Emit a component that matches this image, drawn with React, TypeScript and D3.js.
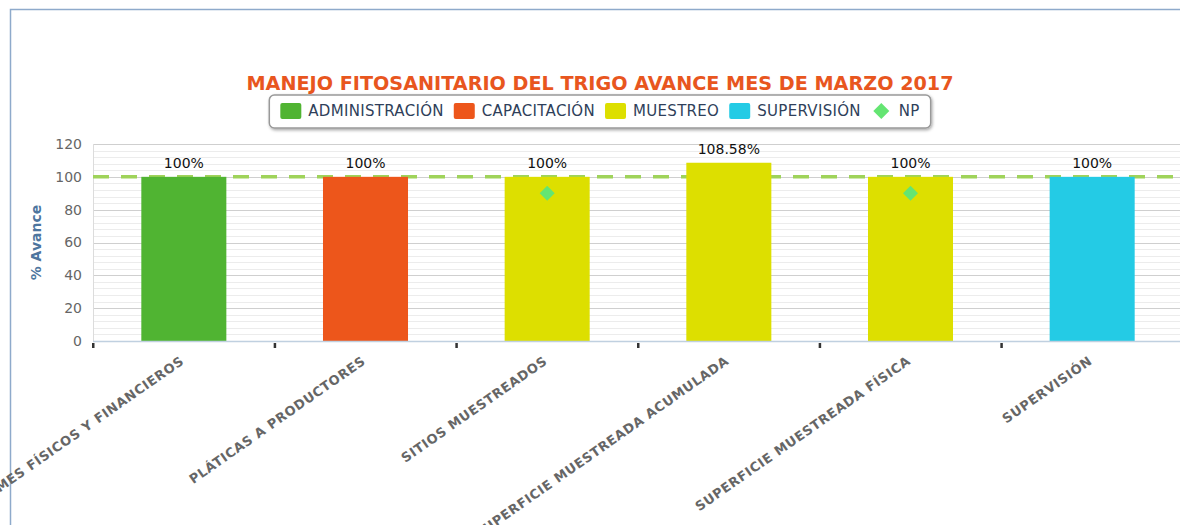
import React, { useEffect, useRef } from "react";
import * as d3 from "d3";

const title = "MANEJO FITOSANITARIO DEL TRIGO AVANCE MES DE MARZO 2017";
const yAxisTitle = "% Avance";
const categories = [
  "INFORMES FÍSICOS Y FINANCIEROS",
  "PLÁTICAS A PRODUCTORES",
  "SITIOS MUESTREADOS",
  "SUPERFICIE MUESTREADA ACUMULADA",
  "SUPERFICIE MUESTREADA FÍSICA",
  "SUPERVISIÓN",
];
const barValues = [100, 100, 100, 108.58, 100, 100];
const barGroups = ["ADMINISTRACIÓN", "CAPACITACIÓN", "MUESTREO", "MUESTREO", "MUESTREO", "SUPERVISIÓN"];
const npValues: (number | null)[] = [null, null, 90, null, 90, null];
const legendNames = ["ADMINISTRACIÓN", "CAPACITACIÓN", "MUESTREO", "SUPERVISIÓN", "NP"];
const legendColors = ["#50B432", "#ED561B", "#DDDF00", "#24CBE5", "#64E572"];
const yTicks = [0, 20, 40, 60, 80, 100, 120];
const minorStep = 4;
const targetValue = 100;

export default function App() {
  const ref = useRef<SVGSVGElement>(null);

  useEffect(() => {
    const svg = d3.select(ref.current);
    svg.selectAll("*").remove();
    const W = 1180, H = 525;
    const left = 93, right = 1183, top = 144, bottom = 341;
    const font = "DejaVu Sans, Verdana, sans-serif";

    const color = d3.scaleOrdinal<string, string>().domain(legendNames).range(legendColors);
    const x = d3.scaleBand<string>().domain(categories).range([left, right]).padding(0);
    const y = d3.scaleLinear().domain([0, 120]).range([bottom, top]);

    const defs = svg.append("defs");
    const f = defs.append("filter").attr("id", "shadow").attr("x", "-5%").attr("y", "-30%").attr("width", "110%").attr("height", "170%");
    f.append("feDropShadow").attr("dx", 1).attr("dy", 1.5).attr("stdDeviation", 1.5).attr("flood-color", "#000").attr("flood-opacity", 0.35);

    svg.append("rect").attr("width", W).attr("height", H).attr("fill", "#fff");
    // outer border
    svg.append("path").attr("d", `M10.5,${H} L10.5,9.5 L${W},9.5`).attr("fill", "none").attr("stroke", "#8eaacb").attr("stroke-width", 1.5);

    // minor gridlines
    const minor = d3.range(0, 120 + 0.001, minorStep).filter((v) => v % 20 !== 0);
    svg.append("g").selectAll("line").data(minor).join("line")
      .attr("x1", left).attr("x2", right)
      .attr("y1", (d) => Math.round(y(d)) + 0.5).attr("y2", (d) => Math.round(y(d)) + 0.5)
      .attr("stroke", "#ececec").attr("stroke-width", 1);
    // major gridlines
    svg.append("g").selectAll("line").data(yTicks.filter((v) => v > 0)).join("line")
      .attr("x1", left).attr("x2", right)
      .attr("y1", (d) => Math.round(y(d)) + 0.5).attr("y2", (d) => Math.round(y(d)) + 0.5)
      .attr("stroke", "#cfcfcf").attr("stroke-width", 1);
    // left plot edge
    svg.append("line").attr("x1", left + 0.5).attr("x2", left + 0.5).attr("y1", top).attr("y2", bottom)
      .attr("stroke", "#dcdcdc");

    // target dashed line
    svg.append("line").attr("x1", left).attr("x2", right)
      .attr("y1", y(targetValue)).attr("y2", y(targetValue))
      .attr("stroke", "#9fd35a").attr("stroke-width", 3.5).attr("stroke-dasharray", "16,12");

    // bars
    const bw = x.bandwidth() * 0.468;
    svg.append("g").selectAll("rect").data(categories).join("rect")
      .attr("x", (d) => x(d)! + x.bandwidth() / 2 - bw / 2)
      .attr("width", bw)
      .attr("y", (d, i) => y(barValues[i]))
      .attr("height", (d, i) => y(0) - y(barValues[i]))
      .attr("fill", (d, i) => color(barGroups[i]));

    // data labels
    svg.append("g").selectAll("text").data(categories).join("text")
      .attr("x", (d) => x(d)! + x.bandwidth() / 2)
      .attr("y", (d, i) => y(barValues[i]) - 9)
      .attr("text-anchor", "middle")
      .attr("font-family", font).attr("font-size", 14).attr("fill", "#111")
      .text((d, i) => `${barValues[i]}%`);

    // NP diamonds
    const diamond = (cx: number, cy: number, r: number) => `M${cx},${cy - r} L${cx + r},${cy} L${cx},${cy + r} L${cx - r},${cy} Z`;
    svg.append("g").selectAll("path").data(categories.map((c, i) => ({ c, v: npValues[i] })).filter((d) => d.v !== null)).join("path")
      .attr("d", (d) => diamond(x(d.c)! + x.bandwidth() / 2, y(d.v as number), 7.5))
      .attr("fill", color("NP"));

    // x axis line
    svg.append("line").attr("x1", left).attr("x2", right).attr("y1", bottom + 0.5).attr("y2", bottom + 0.5)
      .attr("stroke", "#c0d0e0").attr("stroke-width", 1.5);
    // ticks
    const tickPos = categories.map((c) => x(c)!).concat([right]);
    svg.append("g").selectAll("rect").data(tickPos).join("rect")
      .attr("x", (d) => d - 1).attr("y", bottom + 2).attr("width", 2.5).attr("height", 5)
      .attr("fill", "#333");

    // x labels
    svg.append("g").selectAll("text").data(categories).join("text")
      .attr("transform", (d) => `translate(${x(d)! + x.bandwidth() / 2 + 1},${bottom + 22}) rotate(-35)`)
      .attr("text-anchor", "end")
      .attr("font-family", font).attr("font-size", 13).attr("font-weight", "bold")
      .attr("letter-spacing", 0.6)
      .attr("fill", "#666")
      .text((d) => d);

    // y tick labels
    svg.append("g").selectAll("text").data(yTicks).join("text")
      .attr("x", 82).attr("y", (d) => y(d)).attr("dy", "0.35em")
      .attr("text-anchor", "end")
      .attr("font-family", font).attr("font-size", 14).attr("fill", "#666")
      .text((d) => d);

    // y axis title
    svg.append("text")
      .attr("transform", `translate(41,${(top + bottom) / 2}) rotate(-90)`)
      .attr("text-anchor", "middle")
      .attr("font-family", font).attr("font-size", 14).attr("font-weight", "bold").attr("fill", "#4d759e")
      .text(yAxisTitle);

    // title
    svg.append("text").attr("x", 600).attr("y", 90).attr("text-anchor", "middle")
      .attr("font-family", font).attr("font-size", 19.2).attr("font-weight", "bold").attr("fill", "#E8561E")
      .text(title);

    // legend
    const lg = svg.append("g");
    const box = lg.append("rect").attr("rx", 5).attr("ry", 5).attr("fill", "#fff")
      .attr("stroke", "#999").attr("stroke-width", 1.5).attr("filter", "url(#shadow)");
    let cx = 0;
    const items: { sx: number; tx: number; name: string }[] = [];
    const tmp = lg.append("g");
    const lfs = 15, lls = 0.3;
    legendNames.forEach((name) => {
      const t = tmp.append("text").attr("font-family", font).attr("font-size", lfs).attr("letter-spacing", lls).text(name);
      const w = (t.node() as SVGTextElement).getComputedTextLength();
      items.push({ sx: cx, tx: cx + 28, name });
      cx += 28 + w + 10;
    });
    tmp.remove();
    const totalW = cx - 10;
    const lx0 = 600 - totalW / 2;
    const ly = 111;
    box.attr("x", lx0 - 11).attr("y", 95).attr("width", totalW + 22).attr("height", 33);
    items.forEach((it) => {
      if (it.name === "NP") {
        lg.append("path").attr("d", diamond(lx0 + it.sx + 10.5, ly, 8)).attr("fill", color(it.name));
      } else {
        lg.append("rect").attr("x", lx0 + it.sx).attr("y", ly - 8).attr("width", 21).attr("height", 16)
          .attr("rx", 2).attr("fill", color(it.name));
      }
      lg.append("text").attr("x", lx0 + it.tx).attr("y", ly).attr("dy", "0.36em")
        .attr("font-family", font).attr("font-size", lfs).attr("letter-spacing", lls)
        .attr("fill", "#2f3f5a").text(it.name);
    });
  }, []);

  return (
    <svg ref={ref} width={1180} height={525} style={{ position: "absolute", left: 0, top: 0, display: "block" }} />
  );
}
